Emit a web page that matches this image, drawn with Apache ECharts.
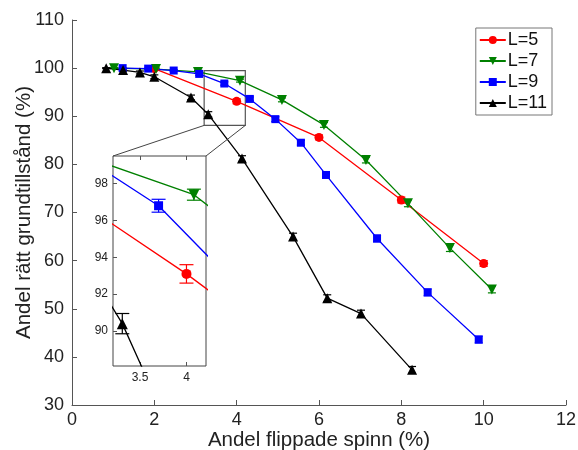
<!DOCTYPE html>
<html><head><meta charset="utf-8">
<script src="https://cdn.jsdelivr.net/npm/echarts@6/dist/echarts.min.js"></script>
<style>html,body{margin:0;padding:0;background:#fff}#c{width:578px;height:450px}</style>
</head><body><div id="c"></div>
<script>
// ---- data ----
const seriesNames = ['L=5', 'L=7', 'L=9', 'L=11'];
const xL5 = [2.0, 4.0, 6.0, 8.0, 10.0];
const yL5 = [99.9, 93.1, 85.6, 72.6, 59.4];
const eL5 = [0.2, 0.5, 0.5, 0.6, 0.6];
const xL7 = [1.02, 2.04, 3.06, 4.08, 5.10, 6.12, 7.14, 8.16, 9.18, 10.20];
const yL7 = [100.0, 99.8, 99.2, 97.4, 93.4, 88.2, 80.9, 71.9, 62.6, 54.0];
const eL7 = [0.1, 0.2, 0.3, 0.3, 0.4, 0.5, 0.6, 0.7, 0.7, 0.7];
const xL9 = [1.23, 1.85, 2.47, 3.09, 3.70, 4.32, 4.94, 5.56, 6.17, 7.41, 8.64, 9.88];
const yL9 = [100.0, 99.9, 99.5, 98.8, 96.8, 93.6, 89.4, 84.5, 77.8, 64.6, 53.4, 43.6];
const eL9 = [0.1, 0.1, 0.2, 0.3, 0.35, 0.4, 0.5, 0.5, 0.6, 0.7, 0.7, 0.7];
const xL11 = [0.83, 1.24, 1.65, 2.0, 2.89, 3.31, 4.13, 5.37, 6.20, 7.02, 8.26];
const yL11 = [100.0, 99.6, 99.1, 98.2, 93.9, 90.4, 81.2, 65.0, 52.2, 49.0, 37.3];
const eL11 = [0.1, 0.2, 0.3, 0.4, 0.5, 0.55, 0.6, 0.7, 0.7, 0.7, 0.7];
const xTicks = [0, 2, 4, 6, 8, 10, 12];
const yTicks = [30, 40, 50, 60, 70, 80, 90, 100, 110];
const insetXRange = [3.21, 4.21];
const insetYRange = [88.1, 99.5];
const insetXTicks = [3.5, 4];
const insetYTicks = [90, 92, 94, 96, 98];

// ---- styles ----
const colors = ['#ff0000', '#008000', '#0000ff', '#000000'];
const symbols = ['circle', 'triangle', 'rect', 'triangle'];
const symRot = [0, 180, 0, 0];
const symSize = [9, 10, 8, 10];
const font = 'Liberation Sans, Arial, Helvetica, sans-serif';

const xs = [xL5, xL7, xL9, xL11], ys = [yL5, yL7, yL9, yL11], es = [eL5, eL7, eL9, eL11];

function errRender(cap) {
  return function (params, api) {
    const x = api.value(0), y = api.value(1), e = api.value(2);
    const t = api.coord([x, y + e]), b = api.coord([x, y - e]);
    const st = { stroke: api.visual('color'), lineWidth: 1.2 };
    return { type: 'group', children: [
      { type: 'line', shape: { x1: t[0], y1: t[1], x2: b[0], y2: b[1] }, style: st },
      { type: 'line', shape: { x1: t[0] - cap, y1: t[1], x2: t[0] + cap, y2: t[1] }, style: st },
      { type: 'line', shape: { x1: b[0] - cap, y1: b[1], x2: b[0] + cap, y2: b[1] }, style: st }
    ]};
  };
}

const series = [];
for (let g = 0; g < 2; g++) {
  for (let i = 0; i < 4; i++) {
    series.push({
      name: seriesNames[i], type: 'line', xAxisIndex: g === 0 ? 0 : 1, yAxisIndex: g === 0 ? 0 : 1,
      data: xs[i].map((x, k) => [x, ys[i][k]]),
      symbol: symbols[i], symbolRotate: symRot[i], symbolSize: g === 0 ? symSize[i] : symSize[i] + 1,
      color: colors[i], lineStyle: { width: 1.3, color: colors[i] }, itemStyle: { color: colors[i] },
      clip: true, z: g === 0 ? 3 : 9, animation: false
    });
    series.push({
      name: seriesNames[i], type: 'custom', xAxisIndex: g === 0 ? 0 : 1, yAxisIndex: g === 0 ? 0 : 1,
      data: xs[i].map((x, k) => [x, ys[i][k], es[i][k]]),
      renderItem: errRender(g === 0 ? 4 : 7), itemStyle: { color: colors[i] }, clip: true, z: g === 0 ? 2 : 8,
      encode: { x: 0, y: [1] }, animation: false
    });
  }
}
// zoom box in main plot
series.push({
  type: 'custom', xAxisIndex: 0, yAxisIndex: 0, silent: true, z: 1, animation: false,
  data: [[insetXRange[0], insetYRange[1], insetXRange[1], insetYRange[0]]],
  encode: { x: [0, 2], y: [1, 3] },
  renderItem: function (params, api) {
    const p1 = api.coord([api.value(0), api.value(1)]), p2 = api.coord([api.value(2), api.value(3)]);
    return { type: 'rect', shape: { x: p1[0], y: p1[1], width: p2[0] - p1[0], height: p2[1] - p1[1] },
      style: { fill: null, stroke: '#555', lineWidth: 1.2 } };
  }
});

const axisLineStyle = { color: '#555', width: 1 };
const chart = echarts.init(document.getElementById('c'), null, { renderer: 'canvas' });
chart.setOption({
  animation: false,
  backgroundColor: '#fff',
  legend: {
    data: seriesNames, orient: 'vertical', right: 26, top: 28,
    itemWidth: 26, itemHeight: 10, itemGap: 3, padding: [3, 5, 3, 3],
    borderColor: '#777', borderWidth: 1, backgroundColor: '#fff',
    textStyle: { fontSize: 18, fontFamily: font, color: '#111', padding: [0, 0, 0, -3] }
  },
  grid: [
    { left: 72, right: 12, top: 20, bottom: 45, outerBoundsMode: 'none', containLabel: false },
    { left: 113, top: 156, width: 93, height: 210, show: true, backgroundColor: '#fff', borderColor: '#444', borderWidth: 1, z: 5, outerBoundsMode: 'none', containLabel: false }
  ],
  xAxis: [
    { type: 'value', gridIndex: 0, min: xTicks[0], max: xTicks[xTicks.length - 1], interval: 2,
      name: 'Andel flippade spinn (%)', nameLocation: 'middle', nameGap: 25, nameMoveOverlap: false,
      nameTextStyle: { fontSize: 20.5, fontFamily: font, color: '#222' },
      axisLine: { lineStyle: axisLineStyle }, axisTick: { inside: true, length: 5, lineStyle: axisLineStyle },
      axisLabel: { fontSize: 18, fontFamily: font, color: '#222', margin: 6 }, splitLine: { show: false } },
    { type: 'value', gridIndex: 1, min: insetXRange[0], max: insetXRange[1], z: 6,
      axisLine: { show: false }, axisTick: { inside: true, length: 4, lineStyle: axisLineStyle, customValues: insetXTicks },
      axisLabel: { fontSize: 12, fontFamily: font, color: '#222', margin: 6, customValues: insetXTicks },
      splitLine: { show: false } },
    { type: 'value', gridIndex: 1, position: 'top', min: insetXRange[0], max: insetXRange[1], z: 6,
      axisLine: { show: false }, axisTick: { inside: true, length: 4, lineStyle: axisLineStyle, customValues: insetXTicks },
      axisLabel: { show: false }, splitLine: { show: false } }
  ],
  yAxis: [
    { type: 'value', gridIndex: 0, min: yTicks[0], max: yTicks[yTicks.length - 1], interval: 10,
      name: 'Andel rätt grundtillstånd (%)', nameLocation: 'middle', nameGap: 37, nameMoveOverlap: false,
      nameTextStyle: { fontSize: 20.5, fontFamily: font, color: '#222' },
      axisLine: { show: true, lineStyle: axisLineStyle }, axisTick: { show: true, inside: true, length: 5, lineStyle: axisLineStyle },
      axisLabel: { fontSize: 18, fontFamily: font, color: '#222', margin: 8 }, splitLine: { show: false } },
    { type: 'value', gridIndex: 1, min: insetYRange[0], max: insetYRange[1], z: 6,
      axisLine: { show: false }, axisTick: { show: true, inside: true, length: 4, lineStyle: axisLineStyle, customValues: insetYTicks },
      axisLabel: { fontSize: 12, fontFamily: font, color: '#222', margin: 5, customValues: insetYTicks },
      splitLine: { show: false } }
  ],
  series: series
});

// connector lines from zoom box to inset
const bl = chart.convertToPixel({ xAxisIndex: 0, yAxisIndex: 0 }, [insetXRange[0], insetYRange[0]]);
const br = chart.convertToPixel({ xAxisIndex: 0, yAxisIndex: 0 }, [insetXRange[1], insetYRange[0]]);
const itl = chart.convertToPixel({ xAxisIndex: 1, yAxisIndex: 1 }, [insetXRange[0], insetYRange[1]]);
const itr = chart.convertToPixel({ xAxisIndex: 1, yAxisIndex: 1 }, [insetXRange[1], insetYRange[1]]);
chart.setOption({
  graphic: [
    { type: 'line', shape: { x1: bl[0], y1: bl[1], x2: itl[0], y2: itl[1] }, style: { stroke: '#444', lineWidth: 1 }, z: 10 },
    { type: 'line', shape: { x1: br[0], y1: br[1], x2: itr[0], y2: itr[1] }, style: { stroke: '#444', lineWidth: 1 }, z: 10 }
  ]
});
</script></body></html>
